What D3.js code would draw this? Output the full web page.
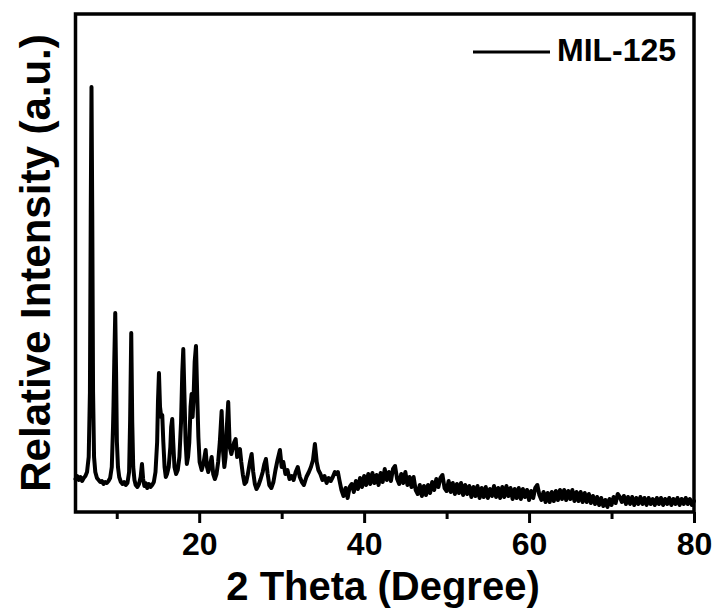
<!DOCTYPE html>
<html>
<head>
<meta charset="utf-8">
<script src="https://cdn.jsdelivr.net/npm/d3@7/dist/d3.min.js"></script>
<style>
  html, body { margin: 0; padding: 0; background: #fff; }
  svg { display: block; }
  text { font-family: "Liberation Sans", Arial, sans-serif; font-weight: bold; fill: #000; }
</style>
</head>
<body>
<svg id="chart" width="716" height="608"></svg>
<script>
// ---- Data (2θ in degrees, relative intensity in a.u.) ----
const seriesName = "MIL-125";
const xTicksMajor = [20, 40, 60, 80];
const xTicksMinor = [10, 30, 50, 70];
const xLabel = "2 Theta (Degree)";
const yLabel = "Relative Intensity (a.u.)";

// Peak region 5–37°
const thetaA = [5.0,5.2,5.4,5.6,5.8,6.0,6.2,6.4,6.6,6.75,6.85,6.94,7.03,7.13,7.25,7.4,7.6,7.8,8.0,8.2,8.4,8.6,8.8,9.0,9.2,9.4,9.55,9.61,9.7,9.82,9.92,10.02,10.15,10.3,10.5,10.7,10.9,11.1,11.3,11.5,11.62,11.76,11.88,12.0,12.15,12.3,12.5,12.7,12.9,13.06,13.2,13.35,13.5,13.7,13.9,14.1,14.3,14.5,14.7,14.9,15.0,15.12,15.25,15.4,15.52,15.65,15.8,15.95,16.1,16.3,16.5,16.6,16.73,16.85,17.0,17.2,17.4,17.6,17.8,17.95,18.07,18.2,18.35,18.5,18.65,18.8,18.95,19.08,19.2,19.3,19.45,19.61,19.75,19.9,20.05,20.3,20.5,20.78,20.95,21.1,21.3,21.51,21.7,21.9,22.1,22.3,22.5,22.72,22.9,23.05,23.2,23.35,23.52,23.7,23.9,24.1,24.25,24.42,24.6,24.78,24.94,25.1,25.3,25.5,25.7,25.9,26.15,26.36,26.55,26.75,26.95,27.2,27.45,27.7,27.9,28.09,28.3,28.5,28.75,29.0,29.25,29.5,29.79,30.0,30.2,30.45,30.7,30.95,31.2,31.45,31.7,31.95,32.2,32.45,32.7,33.0,33.3,33.55,33.8,34.03,34.25,34.45,34.7,34.95,35.2,35.45,35.7,35.95,36.2,36.45,36.62,36.82];
const intensityA = [33,36,32,35,31,34,36,40,55,120,300,425,300,120,55,40,34,32,30,31,28,30,29,31,34,45,85,107,150,199,140,70,45,35,30,28,30,27,29,40,90,179,90,45,32,27,25,28,35,48,33,26,29,24,28,25,27,30,40,70,110,139,105,95,97,70,45,35,38,45,65,85,93,70,45,38,42,55,90,140,163,120,70,48,55,70,105,118,95,110,150,166,120,75,50,42,48,62,45,40,46,55,38,33,38,50,70,101,60,45,55,85,110,65,58,65,70,73,55,60,63,50,37,28,30,38,50,58,40,28,23,27,33,40,48,53,38,27,24,30,42,52,62,45,50,38,42,33,36,32,40,45,35,30,27,35,40,45,52,68,50,42,38,32,36,29,34,31,35,40,38,40];

// Broad / noisy region 37–80°
const thetaB = [37.0,37.25,37.5,37.75,38.0,38.25,38.5,38.75,39.0,39.25,39.5,39.75,40.0,40.25,40.5,40.75,41.0,41.25,41.5,41.75,42.0,42.25,42.5,42.75,43.0,43.25,43.5,43.75,44.0,44.25,44.5,44.75,45.0,45.25,45.5,45.75,46.0,46.25,46.5,46.75,47.0,47.25,47.5,47.75,48.0,48.25,48.5,48.75,49.0,49.25,49.5,49.75,50.0,50.25,50.5,50.75,51.0,51.25,51.5,51.75,52.0,52.25,52.5,52.75,53.0,53.25,53.5,53.75,54.0,54.25,54.5,54.75,55.0,55.25,55.5,55.75,56.0,56.25,56.5,56.75,57.0,57.25,57.5,57.75,58.0,58.25,58.5,58.75,59.0,59.25,59.5,59.75,60.0,60.25,60.5,60.75,61.0,61.25,61.5,61.75,62.0,62.25,62.5,62.75,63.0,63.25,63.5,63.75,64.0,64.25,64.5,64.75,65.0,65.25,65.5,65.75,66.0,66.25,66.5,66.75,67.0,67.25,67.5,67.75,68.0,68.25,68.5,68.75,69.0,69.25,69.5,69.75,70.0,70.25,70.5,70.75,71.0,71.25,71.5,71.75,72.0,72.25,72.5,72.75,73.0,73.25,73.5,73.75,74.0,74.25,74.5,74.75,75.0,75.25,75.5,75.75,76.0,76.25,76.5,76.75,77.0,77.25,77.5,77.75,78.0,78.25,78.5,78.75,79.0,79.25,79.5,79.75,80.0];
const intensityB = [32,22,16,24,14,25,28,20,31,23,34,25,36,27,38,28,39,29,37,27,39,30,43,32,40,31,43,46,33,28,38,29,
  40,27,35,25,35,22,18,27,16,26,17,27,19,30,22,33,25,34,37,24,21,31,20,29,18,28,19,29,17,27,18,26,15,25,16,26,14,24,15,25,
  14,23,16,26,15,24,14,25,15,26,16,24,13,23,14,24,13,23,15,22,12,21,14,24,27,17,12,20,10,19,10,20,11,21,12,22,13,22,12,21,
  13,22,11,20,11,20,10,19,10,18,9,16,
  8,15,7,14,6,12,5,13,7,15,9,18,15,10,16,8,
  15,8,15,7,14,8,15,8,14,7,14,8,13,7,14,8,14,7,13,8,14,7,13,8,14,7,13,8,14,8,13,7,11];

(function () {
  const svg = d3.select("#chart");
  const mLeft = 75.5, mRight = 694, mTop = 14, mBottom = 512;

  const x = d3.scaleLinear().domain([5, 80]).range([mLeft, mRight]);
  const y = d3.scaleLinear().domain([0, 498]).range([mBottom, mTop]);

  const pts = thetaA.map((t, i) => [t, intensityA[i]])
    .concat(thetaB.map((t, i) => [t, intensityB[i]]));

  // Data line
  svg.append("path")
    .datum(pts)
    .attr("fill", "none")
    .attr("stroke", "#000")
    .attr("stroke-width", 4)
    .attr("stroke-linejoin", "round")
    .attr("stroke-linecap", "round")
    .attr("d", d3.line().x(d => x(d[0])).y(d => y(d[1])));

  // Bottom axis: major ticks with labels
  const axMajor = svg.append("g")
    .attr("transform", `translate(0,${mBottom})`)
    .call(d3.axisBottom(x).tickValues(xTicksMajor).tickSize(11).tickSizeOuter(0).tickPadding(0));
  axMajor.select(".domain").remove();
  axMajor.selectAll(".tick line").attr("stroke", "#000").attr("stroke-width", 3);
  axMajor.selectAll(".tick text")
    .attr("y", 43).attr("dy", 0)
    .style("font-family", '"Liberation Sans", Arial, sans-serif')
    .style("font-weight", "bold")
    .style("font-size", "32px")
    .attr("fill", "#000");

  // Minor ticks
  const axMinor = svg.append("g")
    .attr("transform", `translate(0,${mBottom})`)
    .call(d3.axisBottom(x).tickValues(xTicksMinor).tickSize(7).tickSizeOuter(0).tickFormat(""));
  axMinor.select(".domain").remove();
  axMinor.selectAll(".tick line").attr("stroke", "#000").attr("stroke-width", 3);

  // Frame
  svg.append("rect")
    .attr("x", mLeft).attr("y", mTop)
    .attr("width", mRight - mLeft).attr("height", mBottom - mTop)
    .attr("fill", "none").attr("stroke", "#000").attr("stroke-width", 3.5);

  // Axis titles
  svg.append("text")
    .attr("x", 383).attr("y", 600)
    .attr("text-anchor", "middle")
    .style("font-size", "40px")
    .text(xLabel);

  svg.append("text")
    .attr("transform", "translate(50,263) rotate(-90)")
    .attr("text-anchor", "middle")
    .style("font-size", "42px")
    .text(yLabel);

  // Legend
  svg.append("line")
    .attr("x1", 473).attr("x2", 550).attr("y1", 52).attr("y2", 52)
    .attr("stroke", "#000").attr("stroke-width", 3);
  svg.append("text")
    .attr("x", 557).attr("y", 61)
    .style("font-size", "32px")
    .text(seriesName);
})();
</script>
</body>
</html>
